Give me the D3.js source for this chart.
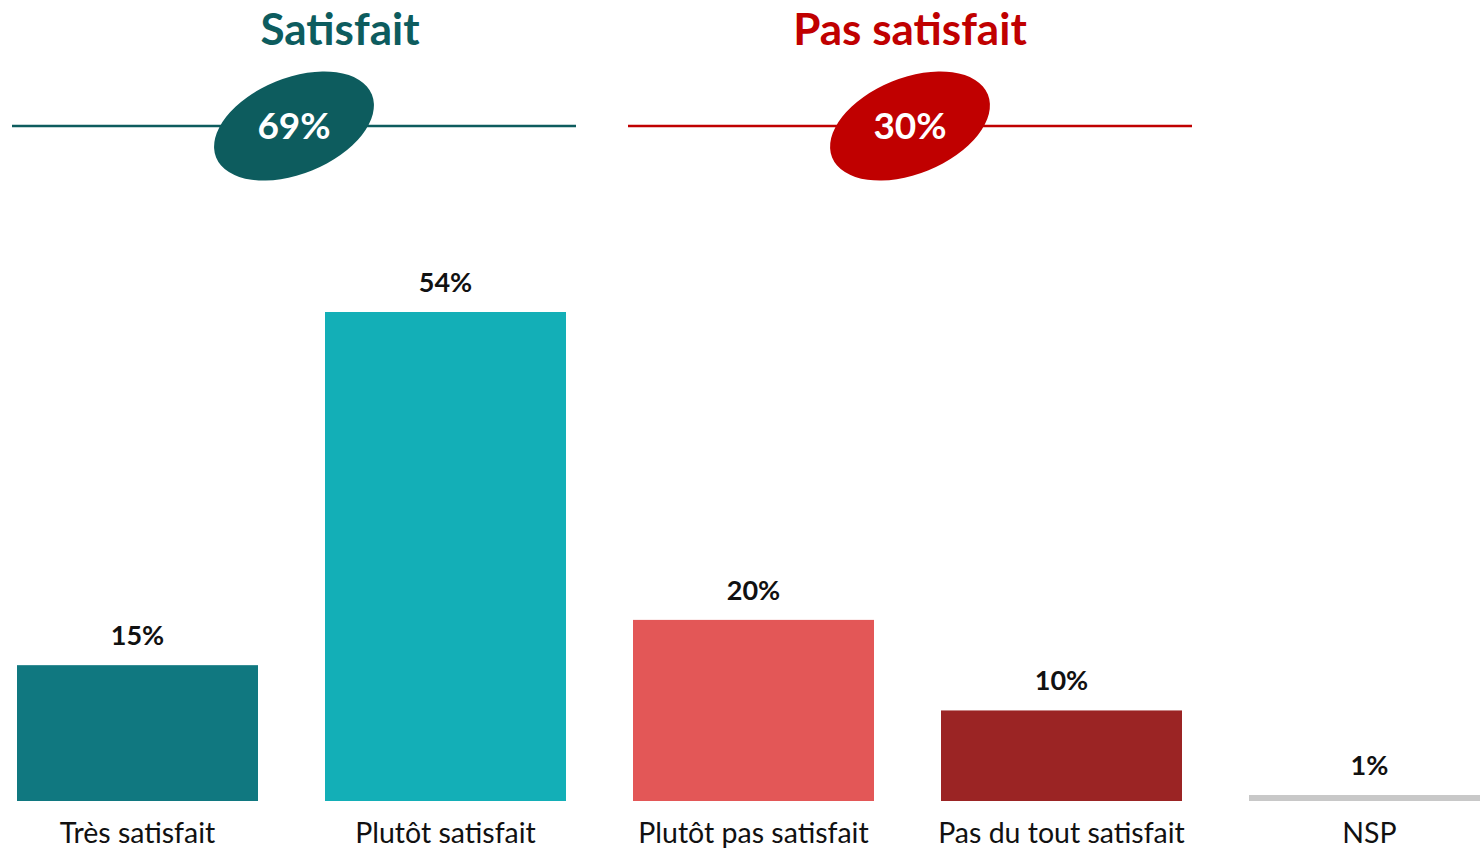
<!DOCTYPE html>
<html>
<head>
<meta charset="utf-8">
<script src="https://cdn.jsdelivr.net/npm/d3@7"></script>
<style>
  html, body { margin: 0; padding: 0; background: #fff; }
</style>
</head>
<body>
<div id="chart"></div>
<script>
// ── Data
const categories = ['Très satisfait', 'Plutôt satisfait', 'Plutôt pas satisfait', 'Pas du tout satisfait', 'NSP'];
const values = [15, 54, 20, 10, 1];
const valueLabels = ['15%', '54%', '20%', '10%', '1%'];
const groupTitles = ['Satisfait', 'Pas satisfait'];
const groupTotals = ['69%', '30%'];

// ── Layout
const W = 1480, H = 849;
const FONT = 'Lato, "Open Sans", Arial, sans-serif';
const BASE_Y = 801;
const BAR_COLORS = ['#107880', '#13afb7', '#e35757', '#9b2424', '#c8c8c8'];
const GROUP_COLORS = ['#0d5c5e', '#c00000'];

const svg = d3.select('#chart').append('svg')
  .attr('width', W).attr('height', H)
  .style('display', 'block');

// band scale: step 308, bar 241
const step = 308, bw = 241;
const x = d3.scaleBand()
  .domain(categories)
  .range([17 - (step - bw) / 2, 17 - (step - bw) / 2 + step * categories.length])
  .paddingInner((step - bw) / step)
  .paddingOuter(((step - bw) / 2) / step);

const y = d3.scaleLinear().domain([0, 54]).range([BASE_Y, 312]);

// ── Bars
svg.selectAll('.bar')
  .data(values)
  .enter().append('rect')
  .attr('class', 'bar')
  .attr('x', (d, i) => x(categories[i]))
  .attr('y', d => d === 1 ? BASE_Y - 6 : y(d))
  .attr('width', x.bandwidth())
  .attr('height', d => d === 1 ? 6 : BASE_Y - y(d))
  .attr('fill', (d, i) => BAR_COLORS[i]);

// value labels
svg.selectAll('.val')
  .data(values)
  .enter().append('text')
  .attr('x', (d, i) => x(categories[i]) + x.bandwidth() / 2)
  .attr('y', d => (d === 1 ? BASE_Y - 6 : y(d)) - 20)
  .attr('text-anchor', 'middle')
  .attr('font-family', FONT)
  .attr('font-weight', 700)
  .attr('font-size', '27px')
  .attr('fill', '#111')
  .text((d, i) => valueLabels[i]);

// category labels
svg.selectAll('.cat')
  .data(categories)
  .enter().append('text')
  .attr('x', d => x(d) + x.bandwidth() / 2)
  .attr('y', 843)
  .attr('text-anchor', 'middle')
  .attr('font-family', FONT)
  .attr('font-size', '28.5px')
  .attr('fill', '#111')
  .text(d => d);

// ── Group headers with line + tilted ellipse
const groups = [
  { title: groupTitles[0], total: groupTotals[0], color: GROUP_COLORS[0], x1: 12, x2: 576, titleX: 340, cx: 294 },
  { title: groupTitles[1], total: groupTotals[1], color: GROUP_COLORS[1], x1: 628, x2: 1192, titleX: 910, cx: 910 }
];

groups.forEach(g => {
  const gg = svg.append('g');
  gg.append('text')
    .attr('x', g.titleX).attr('y', 45)
    .attr('text-anchor', 'middle')
    .attr('font-family', FONT)
    .attr('font-weight', 700)
    .attr('font-size', '44px')
    .attr('fill', g.color)
    .text(g.title);

  gg.append('line')
    .attr('x1', g.x1).attr('x2', g.x2)
    .attr('y1', 126).attr('y2', 126)
    .attr('stroke', g.color).attr('stroke-width', 2.5);

  gg.append('ellipse')
    .attr('cx', 0).attr('cy', 0)
    .attr('rx', 84).attr('ry', 48)
    .attr('transform', `translate(${g.cx},126) rotate(-22)`)
    .attr('fill', g.color);

  gg.append('text')
    .attr('x', g.cx).attr('y', 139)
    .attr('text-anchor', 'middle')
    .attr('font-family', FONT)
    .attr('font-weight', 700)
    .attr('font-size', '37px')
    .attr('fill', '#fff')
    .text(g.total);
});
</script>
</body>
</html>
